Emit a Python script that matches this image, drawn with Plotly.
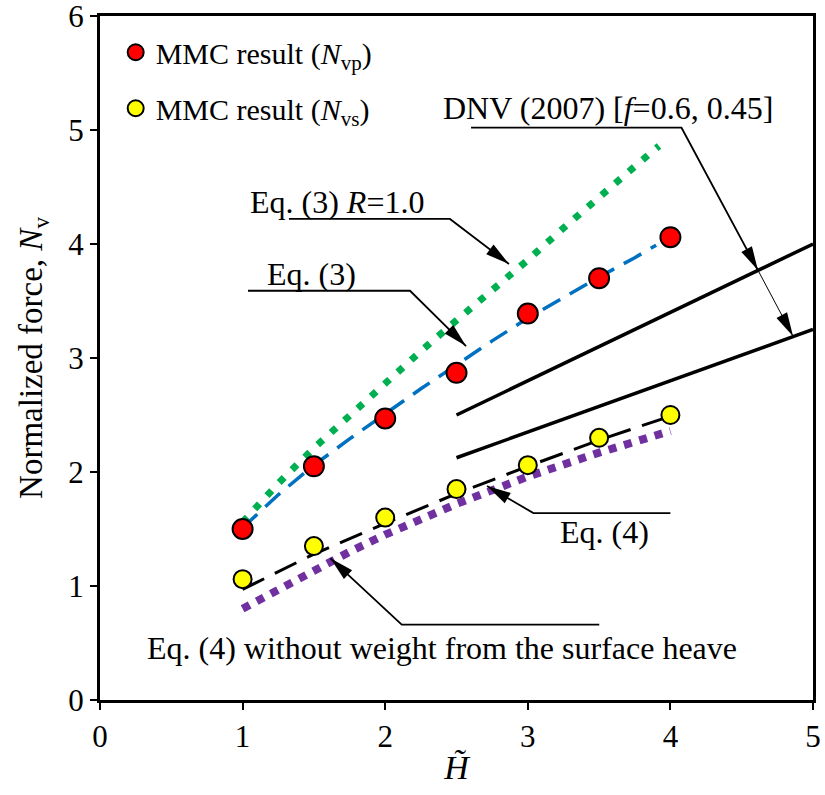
import plotly.graph_objects as go

# ---- data ----------------------------------------------------------------
H_mmc = [1.0, 1.5, 2.0, 2.5, 3.0, 3.5, 4.0]
Nvp_mmc = [1.50, 2.05, 2.47, 2.87, 3.39, 3.70, 4.06]
Nvs_mmc = [1.06, 1.35, 1.60, 1.85, 2.06, 2.30, 2.50]

H_eq3 = [1.0, 1.25, 1.5, 1.75, 2.0, 2.25, 2.5, 2.75, 3.0, 3.25, 3.5, 3.75, 3.9]
Nv_eq3 = [1.51, 1.80, 2.06, 2.29, 2.51, 2.73, 2.94, 3.15, 3.35, 3.53, 3.71, 3.88, 3.99]

H_eq3_R1 = [1.0, 1.25, 1.5, 1.75, 2.0, 2.25, 2.5, 2.75, 3.0, 3.25, 3.5, 3.75, 3.92]
Nv_eq3_R1 = [1.56, 1.90, 2.21, 2.50, 2.79, 3.06, 3.33, 3.59, 3.86, 4.14, 4.42, 4.68, 4.86]

H_eq4 = [1.0, 1.5, 2.0, 2.5, 3.0, 3.5, 4.0]
Nv_eq4 = [0.97, 1.28, 1.55, 1.81, 2.05, 2.28, 2.49]

H_eq4_nw = [1.0, 1.25, 1.5, 1.75, 2.0, 2.5, 3.0, 3.5, 4.0]
Nv_eq4_nw = [0.80, 0.97, 1.14, 1.30, 1.45, 1.72, 1.96, 2.17, 2.36]

H_dnv = [2.5, 5.0]
Nv_dnv_06 = [2.50, 4.00]
Nv_dnv_045 = [2.125, 3.25]

x_ticks = [0, 1, 2, 3, 4, 5]
y_ticks = [0, 1, 2, 3, 4, 5, 6]

# ---- layout geometry -----------------------------------------------------
W, H = 825, 795
ML, MR, MT, MB = 100, 12, 16, 95
X_RANGE = [0, 5]
Y_RANGE = [0, 6]
PX_X = (W - ML - MR) / (X_RANGE[1] - X_RANGE[0])
PX_Y = (H - MT - MB) / (Y_RANGE[1] - Y_RANGE[0])

FONT = "Liberation Serif, Times New Roman, serif"
TXT = 32

fig = go.Figure()

# analytical curves
fig.add_trace(go.Scatter(x=H_eq3_R1, y=Nv_eq3_R1, mode="lines", showlegend=False,
                         line=dict(color="#00B050", width=7, dash="7px,11px")))
fig.add_trace(go.Scatter(x=H_eq3, y=Nv_eq3, mode="lines", showlegend=False,
                         line=dict(color="#0070C0", width=3.5, dash="20px,11px")))
fig.add_trace(go.Scatter(x=H_eq4_nw, y=Nv_eq4_nw, mode="lines", showlegend=False,
                         line=dict(color="#7030A0", width=8, dash="8px,8px")))
fig.add_trace(go.Scatter(x=H_eq4, y=Nv_eq4, mode="lines", showlegend=False,
                         line=dict(color="black", width=3, dash="24px,12px")))
fig.add_trace(go.Scatter(x=H_dnv, y=Nv_dnv_06, mode="lines", showlegend=False,
                         line=dict(color="black", width=3.5)))
fig.add_trace(go.Scatter(x=H_dnv, y=Nv_dnv_045, mode="lines", showlegend=False,
                         line=dict(color="black", width=3.5)))

# MMC results
fig.add_trace(go.Scatter(x=H_mmc, y=Nvp_mmc, mode="markers", legendgroup="vp",
                         name="MMC result (<i>N</i><sub>vp</sub>)",
                         marker=dict(color="#FF0000", size=20,
                                     line=dict(color="black", width=2))))
fig.add_trace(go.Scatter(x=H_mmc, y=Nvs_mmc, mode="markers", legendgroup="vs",
                         name="MMC result (<i>N</i><sub>vs</sub>)",
                         marker=dict(color="#FFFF00", size=18,
                                     line=dict(color="black", width=2))))

shapes = []
annotations = []


def arrow_head(tail, tip, length=24, half_width=6):
    """Filled triangular head at `tip`, pointing away from `tail` (pixel sized)."""
    dx = (tip[0] - tail[0]) * PX_X
    dy = (tip[1] - tail[1]) * PX_Y
    n = (dx * dx + dy * dy) ** 0.5
    ux, uy = dx / n, dy / n
    bx, by = -ux * length, -uy * length
    px, py = -uy * half_width, ux * half_width
    path = (f"M0,0 L{bx + px:.2f},{by + py:.2f} "
            f"L{bx - px:.2f},{by - py:.2f} Z")
    shapes.append(dict(type="path", xref="x", yref="y",
                       xsizemode="pixel", ysizemode="pixel",
                       xanchor=tip[0], yanchor=tip[1], path=path,
                       fillcolor="black", line=dict(color="black", width=0)))


def leader(points, width=1.8):
    """Polyline in data coordinates from the label to the target."""
    path = "M" + " L".join(f"{x},{y}" for x, y in points)
    shapes.append(dict(type="path", xref="x", yref="y", path=path,
                       line=dict(color="black", width=width)))


def label(x, y, text):
    annotations.append(dict(x=x, y=y, xref="x", yref="y", text=text,
                            showarrow=False, xanchor="center", yanchor="middle",
                            font=dict(family=FONT, size=TXT, color="black")))


# Eq. (3) R=1.0
label(1.665, 4.37, "Eq. (3) <i>R</i>=1.0")
pts = [(1.325, 4.22), (2.454, 4.22), (2.868, 3.825)]
leader(pts)
arrow_head(pts[1], pts[2])

# Eq. (3)
label(1.483, 3.74, "Eq. (3)")
pts = [(1.038, 3.59), (2.174, 3.59), (2.567, 3.105)]
leader(pts)
arrow_head(pts[1], pts[2])

# DNV (2007)
label(3.562, 5.19, "DNV (2007) [<i>f</i>=0.6, 0.45]")
pts = [(2.602, 5.02), (4.078, 5.02), (4.614, 3.77)]
leader(pts)
arrow_head(pts[1], pts[2])
pts2 = [(4.614, 3.77), (4.86, 3.19)]
leader(pts2, width=1)
arrow_head(pts2[0], pts2[1])

# Eq. (4)
label(3.538, 1.47, "Eq. (4)")
pts = [(4.0, 1.64), (3.039, 1.64), (2.714, 1.877)]
leader(pts)
arrow_head(pts[1], pts[2])

# Eq. (4) without weight
label(2.398, 0.456, "Eq. (4) without weight from the surface heave")
pts = [(3.501, 0.661), (2.116, 0.661), (1.616, 1.243)]
leader(pts)
arrow_head(pts[1], pts[2])

axis_common = dict(showline=True, linecolor="black", linewidth=3, mirror=True,
                   ticks="outside", ticklen=7, tickwidth=1.5, tickcolor="black",
                   showgrid=False, zeroline=False, ticklabeloverflow="allow",
                   automargin=False,
                   tickfont=dict(family=FONT, size=31, color="black"))

fig.update_layout(
    width=W, height=H,
    margin=dict(l=ML, r=MR, t=MT, b=MB, pad=0, autoexpand=False),
    paper_bgcolor="white", plot_bgcolor="white",
    font=dict(family=FONT, size=TXT, color="black"),
    xaxis=dict(range=X_RANGE, tickvals=x_ticks,
               title=dict(text="<i>H̃</i>", standoff=2,
                          font=dict(family=FONT, size=34)),
               **axis_common),
    yaxis=dict(range=Y_RANGE, tickvals=y_ticks,
               title=dict(text="Normalized force, <i>N</i><sub>v</sub>", standoff=16,
                          font=dict(family=FONT, size=33)),
               **axis_common),
    legend=dict(x=0.022, y=0.985, xanchor="left", yanchor="top",
                bgcolor="rgba(0,0,0,0)", tracegroupgap=14,
                font=dict(family=FONT, size=30, color="black")),
    shapes=shapes,
    annotations=annotations,
)

fig.write_html("out.html")
